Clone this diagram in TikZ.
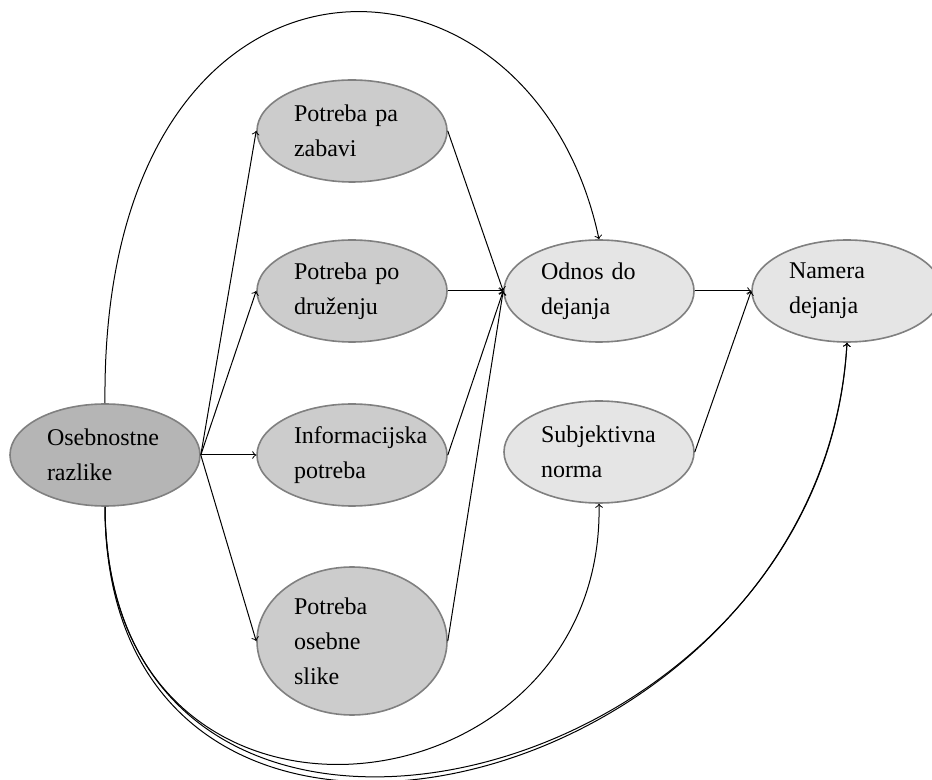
\documentclass[tikz,border=0pt]{standalone}
\usepackage{fontspec}
\setmainfont{Liberation Serif}
\usetikzlibrary{shapes.geometric}
\definecolor{rimgray}{gray}{0.5}
\definecolor{traitfill}{gray}{0.71}
\definecolor{needfill}{gray}{0.8}
\definecolor{beliefill}{gray}{0.9}
\begin{document}
\begin{tikzpicture}[x=0.5pt,y=-0.5pt,
    base/.style={ellipse,draw=rimgray,line width=0.8pt,minimum width=95pt,minimum height=51pt,
        inner sep=0pt,text width=58pt,align=left,font=\fontsize{12}{17.5}\selectfont,
        execute at begin node={\hyphenpenalty=10000}},
    trait/.style={base,fill=traitfill},
    need/.style={base,fill=needfill},
    belief/.style={base,fill=beliefill},
    arrow/.style={->,line width=0.5pt}
]
\useasboundingbox (0,0) rectangle (932,780);

\node[trait] (oseb) at (105,455) {Osebnostne\\razlike};

\node[need] (zab) at (352,131) {Potreba pa\\zabavi};
\node[need] (druz) at (352,291) {Potreba po\\druženju};
\node[need] (info) at (352,455) {Informacijska\\potreba};
\node[need,minimum height=74pt] (slike) at (352,641) {Potreba\\osebne\\slike};

\node[belief] (odnos) at (599,291) {Odnos do\\dejanja};
\node[belief] (subj) at (599,452) {Subjektivna\\norma};
\node[belief] (namera) at (847,291) {Namera\\dejanja};

\draw[arrow] (oseb.east)--(zab.west);
\draw[arrow] (oseb.east)--(druz.west);
\draw[arrow] (oseb.east)--(info.west);
\draw[arrow] (oseb.east)--(slike.west);

\draw[arrow] (zab.east)--(odnos.west);
\draw[arrow] (druz.east)--(odnos.west);
\draw[arrow] (info.east)--(odnos.west);
\draw[arrow] (slike.east)--(odnos.west);

\draw[arrow] (odnos.east)--(namera.west);
\draw[arrow] (subj.east)--(namera.west);

\draw[arrow] (oseb.north) .. controls (100,-90) and (530,-85) .. (odnos.north);
\draw[arrow] (oseb.south) .. controls (105,880) and (605,820) .. (subj.south);
\draw[arrow] (oseb.south) .. controls (105,972) and (820,800) .. (namera.south);
\draw[arrow] (oseb.south) .. controls (108,960) and (822,800) .. (namera.south);

\end{tikzpicture}
\end{document}
